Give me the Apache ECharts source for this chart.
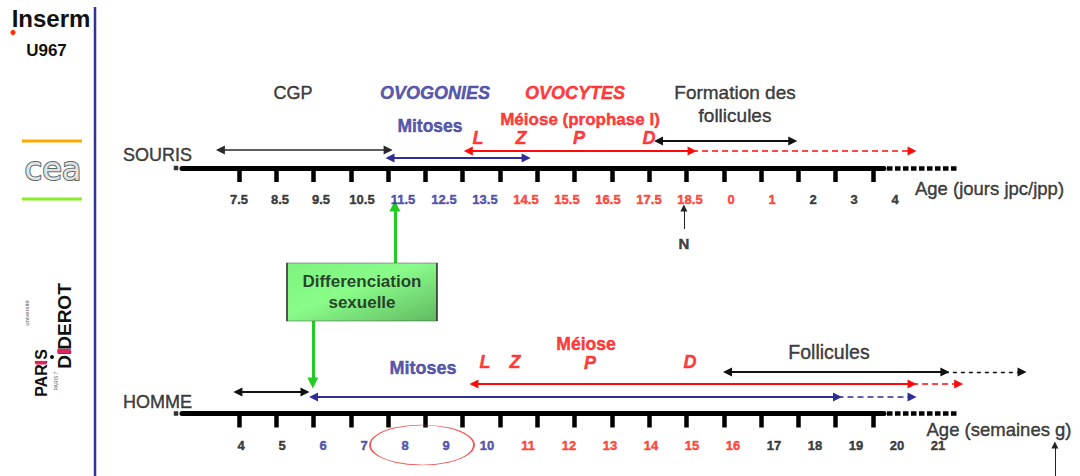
<!DOCTYPE html>
<html><head><meta charset="utf-8">
<script src="https://cdn.jsdelivr.net/npm/echarts@6/dist/echarts.min.js"></script>
<style>html,body{margin:0;padding:0;background:#fff}#c{width:1080px;height:476px}</style>
</head><body><div id="c"></div>
<script>
// ================= DATA =================
// Position unit on both timelines = one axis tick (tick 0 .. 17).
const tickValues = [0,1,2,3,4,5,6,7,8,9,10,11,12,13,14,15,16,17];

// Mouse timeline (SOURIS): age labels and their phase
const sourisLabels = ['7.5','8.5','9.5','10.5','11.5','12.5','13.5','14.5','15.5','16.5','17.5','18.5','0','1','2','3','4'];
const sourisPhases = ['cgp','cgp','cgp','cgp','mit','mit','mit','mei','mei','mei','mei','mei','mei','mei','fol','fol','fol'];
// Human timeline (HOMME): age labels (weeks) and their phase
const hommeLabels = ['4','5','6','7','8','9','10','11','12','13','14','15','16','17','18','19','20','21'];
const hommePhases = ['cgp','cgp','mit','mit','mit','mit','mit','mei','mei','mei','mei','mei','mei','fol','fol','fol','fol','fol'];

// Spans [start, end] in tick units
const sourisCGP = [-0.5, 4.0];
const sourisMitoses = [4.05, 7.7];
const sourisMeiose = [6.15, 12.15];
const sourisMeioseSuite = [12.15, 18.05];
const sourisFollicules = [11.25, 14.85];
const hommeAvant = [-0.03, 1.77];
const hommeMitoses = [2.0, 16.05];
const hommeMitosesSuite = [16.05, 18.05];
const hommeMeiose = [6.3, 18.05];
const hommeMeioseSuite = [18.05, 19.3];
const hommeFollicules = [13.1, 18.93];
const hommeFolliculesSuite = [18.93, 21.0];
// Single events (tick units)
const sourisNaissance = 11.93;
const sourisDifferenciation = 4.18;
const hommeDifferenciation = 1.98;
const hommeMarqueFin = 21.88;
const hommeCercle = [4.907];   // circled weeks 8-9
const axisSuite = [17.377, 19.281]; // dotted continuation of both axes

// ================= LAYOUT / STYLE =================
const FONT = 'Liberation Sans, Arial, sans-serif';
const NAVY = '#2e2e96', RED = '#ff0a0a', BLACK = '#111111', GREEN = '#22cc22';
const phaseColor = {cgp: BLACK, mit: '#30309c', mei: '#ff2010', fol: BLACK};
const LABEL_STEP = 41 / 37.29;       // label spacing in tick units
const X_MIN = -6.409, X_MAX = 22.553; // full-canvas annotation scale
const AX_MIN = -1.5286, AX_MAX = 17.297;
const rows = {
  sourisAxis: 168, sourisLabel: 199, cgp: 150, sMit: 158, sMei: 151, sFol: 141,
  hommeAxis: 413.5, hommeLabel: 445, hAvant: 392, hMit: 397, hMei: 384, hFol: 372
};

function txt(text, x, y, size, color, weight, style, lh) {
  return {
    value: [x, y],
    label: {show: true, position: 'inside', formatter: text, color: color,
      fontSize: size, fontWeight: weight || 'normal', fontStyle: style || 'normal', fontFamily: FONT,
      lineHeight: lh || size, textBorderColor: color, textBorderWidth: 0.45}
  };
}

const texts = [];
sourisLabels.forEach((t, i) => texts.push(txt(t, i * LABEL_STEP, rows.sourisLabel, 13, phaseColor[sourisPhases[i]], 'bold')));
hommeLabels.forEach((t, i) => texts.push(txt(t, 0.054 + i * LABEL_STEP, rows.hommeLabel, 13, phaseColor[hommePhases[i]], 'bold')));
texts.push(
  txt('SOURIS', -2.186, 155, 18, BLACK),
  txt('HOMME', -2.186, 402, 18, BLACK),
  txt('CGP', 1.448, 93, 18, BLACK),
  txt('OVOGONIES', 5.256, 93, 18, NAVY, 'bold', 'italic'),
  txt('OVOCYTES', 9.01, 93, 18, RED, 'bold', 'italic'),
  txt('Formation des\nfollicules', 13.301, 103.5, 19, BLACK, 'normal', 'normal', 23),
  txt('Mitoses', 5.122, 126, 17.5, NAVY, 'bold'),
  txt('Méiose (prophase I)', 9.145, 119, 17, RED, 'bold'),
  txt('L', 6.409, 138, 18, RED, 'bold', 'italic'),
  txt('Z', 7.562, 138, 18, RED, 'bold', 'italic'),
  txt('P', 9.118, 138, 18, RED, 'bold', 'italic'),
  txt('D', 10.995, 138, 18, RED, 'bold', 'italic'),
  txt('N', sourisNaissance, 243, 15, BLACK, 'bold'),
  txt('Age (jours jpc/jpp)', 20.126, 188, 18.5, BLACK),
  txt('Mitoses', 4.934, 368, 18, NAVY, 'bold'),
  txt('L', 6.597, 362, 18, RED, 'bold', 'italic'),
  txt('Z', 7.401, 362, 18, RED, 'bold', 'italic'),
  txt('P', 9.413, 363, 18, RED, 'bold', 'italic'),
  txt('D', 12.095, 362, 18, RED, 'bold', 'italic'),
  txt('Méiose', 9.305, 344, 17.5, RED, 'bold'),
  txt('Follicules', 15.822, 352, 19.5, BLACK),
  txt('Age (semaines g)', 20.381, 429, 18.5, BLACK)
);

function arrows(coordsList, color, width, dash, heads, size, z) {
  return {
    type: 'lines', coordinateSystem: 'cartesian2d', xAxisIndex: 0, yAxisIndex: 0,
    silent: true, z: z || 5, symbol: heads, symbolSize: size || 9,
    lineStyle: {color: color, width: width, type: dash || 'solid', opacity: 1, curveness: 0},
    data: coordsList.map(c => ({coords: c})), animation: false
  };
}
const span = (s, y) => [[s[0], y], [s[1], y]];
const dbl = ['triangle', 'triangle'], end = ['none', 'triangle'], none = ['none', 'none'];
const DASH = [6, 4];

const series = [
  arrows([span(sourisCGP, rows.cgp)], '#2a2a2a', 1.6, null, dbl, 9),
  arrows([span(sourisMitoses, rows.sMit), span(hommeMitoses, rows.hMit)], NAVY, 2, null, dbl, 9),
  arrows([span(sourisMeiose, rows.sMei), span(hommeMeiose, rows.hMei)], RED, 2, null, dbl, 9),
  arrows([span(sourisFollicules, rows.sFol), span(hommeAvant, rows.hAvant), span(hommeFollicules, rows.hFol)], BLACK, 2, null, dbl, 9),
  arrows([span(sourisMeioseSuite, rows.sMei), span(hommeMeioseSuite, rows.hMei)], RED, 1.6, DASH, end, 9),
  arrows([span(hommeMitosesSuite, rows.hMit)], NAVY, 1.6, DASH, end, 9),
  arrows([span(hommeFolliculesSuite, rows.hFol)], BLACK, 1.4, [4, 4], end, 9),
  arrows([[[sourisDifferenciation, 263], [sourisDifferenciation, 206]], [[hommeDifferenciation, 321], [hommeDifferenciation, 383]]], GREEN, 3, null, end, 11),
  arrows([[[sourisNaissance, 229], [sourisNaissance, 208]], [[hommeMarqueFin, 476], [hommeMarqueFin, 445]]], '#222222', 1, null, end, 7),
  arrows([span(axisSuite, rows.sourisAxis), span(axisSuite, rows.hommeAxis)], '#000', 4.5, [5.5, 2.5], none, 1),
  {
    type: 'scatter', xAxisIndex: 0, yAxisIndex: 0, silent: true, z: 6, animation: false,
    symbolSize: 1, itemStyle: {color: 'rgba(0,0,0,0)'},
    data: texts
  },
  { // axis start squares
    type: 'scatter', xAxisIndex: 0, yAxisIndex: 0, silent: true, animation: false,
    symbol: 'rect', symbolSize: 4.5, itemStyle: {color: '#000'},
    data: [[-1.689, rows.sourisAxis], [-1.689, rows.hommeAxis]]
  },
  { // circled weeks
    type: 'scatter', xAxisIndex: 0, yAxisIndex: 0, silent: true, animation: false, z: 7,
    symbol: 'circle', symbolSize: [104, 40],
    itemStyle: {color: 'rgba(0,0,0,0)', borderColor: '#ee3030', borderWidth: 1.2},
    data: hommeCercle.map(x => [x, rows.hommeLabel])
  },
  { // sexual differentiation box
    type: 'scatter', xAxisIndex: 0, yAxisIndex: 0, silent: true, animation: false, z: 8,
    symbol: 'rect', symbolSize: [150, 58],
    itemStyle: {
      color: new echarts.graphic.LinearGradient(0, 0, 1, 1, [
        {offset: 0, color: '#5cf05c'}, {offset: 0.45, color: '#6cfb6c'}, {offset: 1, color: '#3aa83a'}]),
      borderColor: '#2a2a2a', borderWidth: 1.2
    },
    label: {show: true, position: 'inside', formatter: 'Differenciation\nsexuelle', color: '#111',
      fontSize: 17, fontWeight: 'bold', fontFamily: FONT, lineHeight: 21},
    data: [[3.298, 292]]
  }
];

const timeAxis = (gridIndex) => ({
  gridIndex: gridIndex, type: 'value', min: AX_MIN, max: AX_MAX, position: 'bottom',
  axisLine: {show: true, lineStyle: {color: '#000', width: 5}},
  axisTick: {show: true, customValues: tickValues, length: 14, lineStyle: {color: '#000', width: 4.5}},
  axisLabel: {show: false}, splitLine: {show: false}
});

const C = {align: 'center', verticalAlign: 'middle', textAlign: 'center', textVerticalAlign: 'middle'};
const PINK = '#e0245e';
const option = {
  animation: false,
  grid: [
    {left: 0, right: 0, top: 0, bottom: 0},
    {left: 182, width: 702, top: 140, height: rows.sourisAxis - 140},
    {left: 182, width: 702, top: 385, height: rows.hommeAxis - 385}
  ],
  xAxis: [
    {gridIndex: 0, type: 'value', min: X_MIN, max: X_MAX, show: false},
    timeAxis(1), timeAxis(2)
  ],
  yAxis: [
    {gridIndex: 0, type: 'value', min: 0, max: 476, inverse: true, show: false},
    {gridIndex: 1, type: 'value', show: false},
    {gridIndex: 2, type: 'value', show: false}
  ],
  graphic: [
    {type: 'line', shape: {x1: 95, y1: 7, x2: 95, y2: 476}, style: {stroke: '#333399', lineWidth: 2.5}},
    {type: 'text', x: 51, y: 18, style: Object.assign({text: 'Inserm', font: 'bold 24px ' + FONT, fill: '#111'}, C)},
    {type: 'circle', shape: {cx: 13, cy: 32.5, r: 2.6}, style: {fill: '#ff3300'}},
    {type: 'text', x: 46.5, y: 50, style: Object.assign({text: 'U967', font: 'bold 17px ' + FONT, fill: '#111'}, C)},
    {type: 'line', shape: {x1: 22, y1: 141, x2: 82, y2: 141}, style: {stroke: '#ffaa00', lineWidth: 3}},
    {type: 'text', x: 53, y: 169, style: Object.assign({text: 'cea', font: '32px DejaVu Sans', fill: '#dfe3e3', stroke: '#5a6868', lineWidth: 2}, C)},
    {type: 'line', shape: {x1: 22, y1: 199, x2: 82, y2: 199}, style: {stroke: '#88ee22', lineWidth: 3}},
    // PARIS (rotated), with pink I
    {type: 'text', x: 41, y: 373, rotation: Math.PI / 2, style: Object.assign({text: 'PARIS', font: 'bold 16px ' + FONT, fill: '#111'}, C)},
    {type: 'rect', x: 41, y: 373, rotation: Math.PI / 2, shape: {x: 8.5, y: -5.5, width: 3.6, height: 11}, style: {fill: PINK}},
    // DIDEROT (rotated), with pink I
    {type: 'text', x: 64, y: 326, rotation: Math.PI / 2, style: Object.assign({text: 'DIDEROT', font: 'bold 19px ' + FONT, fill: '#111'}, C)},
    {type: 'rect', x: 64, y: 326, rotation: Math.PI / 2, shape: {x: -27.3, y: -6.7, width: 4.4, height: 13.5}, style: {fill: PINK}},
    {type: 'circle', shape: {cx: 52, cy: 357, r: 2}, style: {fill: '#111'}},
    {type: 'text', x: 27, y: 313, rotation: Math.PI / 2, style: Object.assign({text: 'université', font: '6px ' + FONT, fill: '#555'}, C)},
    {type: 'text', x: 56, y: 381, rotation: Math.PI / 2, style: Object.assign({text: 'PARIS 7', font: '5px ' + FONT, fill: '#555'}, C)}
  ],
  series: series
};

const chart = echarts.init(document.getElementById('c'), null, {renderer: 'svg'});
chart.setOption(option);
</script>
</body></html>
